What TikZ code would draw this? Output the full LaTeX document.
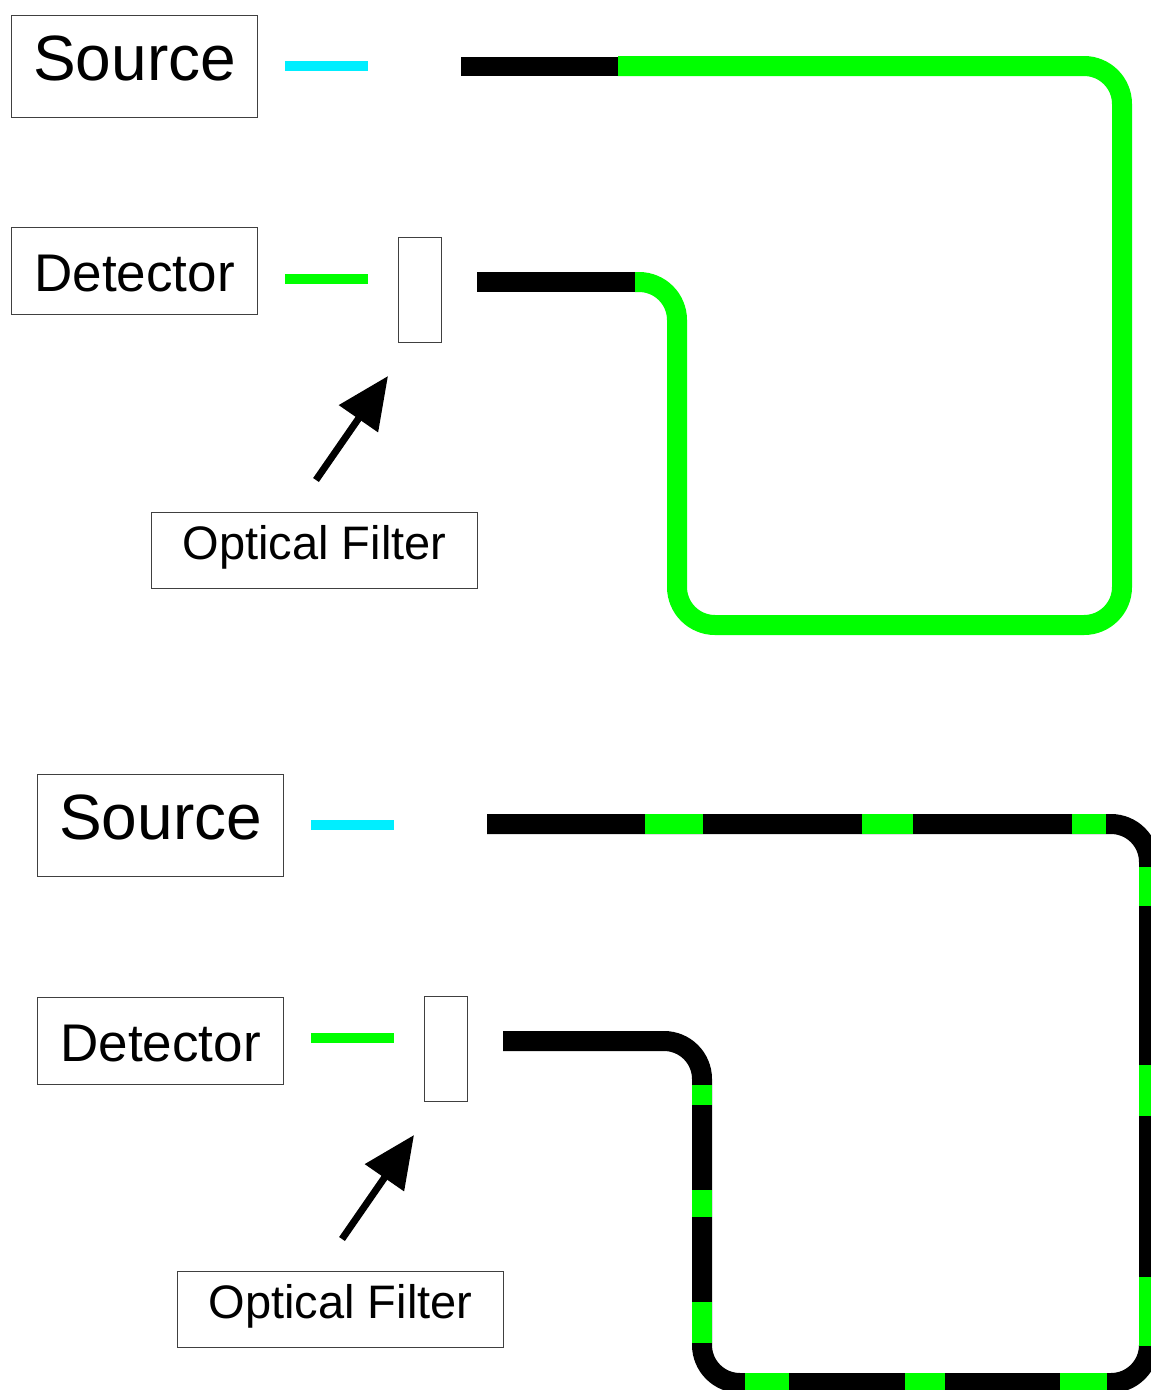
\documentclass[tikz,border=0pt]{standalone}
\usepackage{fontspec}
\setmainfont{Liberation Sans}
\usetikzlibrary{arrows.meta}

\definecolor{fibregreen}{RGB}{0,255,0}
\definecolor{srccyan}{RGB}{0,238,255}

\tikzset{
  lbox/.style={draw=black!75, line width=1.2pt, inner sep=0pt, anchor=north west},
  stub/.style={line width=10pt},
  fibre/.style={line width=20pt, rounded corners=38pt},
  gband/.style={line width=20pt, draw=fibregreen},
  pointer/.style={line width=7pt, -{Triangle[length=52pt,width=46pt]}}
}

\begin{document}
\begin{tikzpicture}[x=1pt, y=-1pt]
  \clip (0,0) rectangle (1151,1390);
  \fill[white] (0,0) rectangle (1151,1390);

  % both panels: boxes, stubs, filter and pointer
  \foreach \dx/\dy/\dd/\p in {0/0/0/a, 26/759/11/b}{
    \begin{scope}[shift={(\dx,\dy)}]
      \node[lbox, minimum width=246, text height=65pt, text depth=37pt,
            font=\fontsize{64}{70}\selectfont] (src\p) at (11,15) {Source};
      \node[lbox, minimum width=246, text height=64pt, text depth=23pt,
            font=\fontsize{53}{58}\selectfont] (det\p) at (11,227+\dd) {Detector};
      \node[lbox, minimum width=43, minimum height=105] (flt\p) at (398,237) {};
      \node[lbox, minimum width=326, text height=47pt, text depth=29pt,
            font=\fontsize{47}{52}\selectfont] (opt\p) at (151,512) {Optical Filter};
      \draw[stub, srccyan] (285,66) -- (368,66);     % source light
      \draw[stub, fibregreen] (285,279) -- (368,279); % detector light
      \coordinate (tail\p) at (316,480);
      \coordinate (tip\p) at (388,376);
      \draw[pointer] (tail\p) -- (tip\p);
    \end{scope}
  }

  % top fibre: green all along
  \draw[line width=19pt] (461,66) -- (618,66);
  \draw[fibre, fibregreen] (618,66) -- (1122,66) -- (1122,625) -- (677,625) -- (677,282) -- (635,282);
  \draw[line width=20pt] (635,282) -- (477,282);

  % bottom fibre: black with green bands
  \draw[fibre] (487,824) -- (1149,824) -- (1149,1383) -- (702,1383) -- (702,1041) -- (503,1041);
  \foreach \a/\b in {645/703, 862/913, 1072/1106}
    \draw[gband] (\a,824) -- (\b,824);
  \foreach \a/\b in {867/906, 1065/1116, 1277/1346}
    \draw[gband] (1149,\a) -- (1149,\b);
  \foreach \a/\b in {745/789, 905/945, 1060/1107}
    \draw[gband] (\a,1383) -- (\b,1383);
  \foreach \a/\b in {1085/1105, 1190/1217, 1302/1343}
    \draw[gband] (702,\a) -- (702,\b);
\end{tikzpicture}
\end{document}
